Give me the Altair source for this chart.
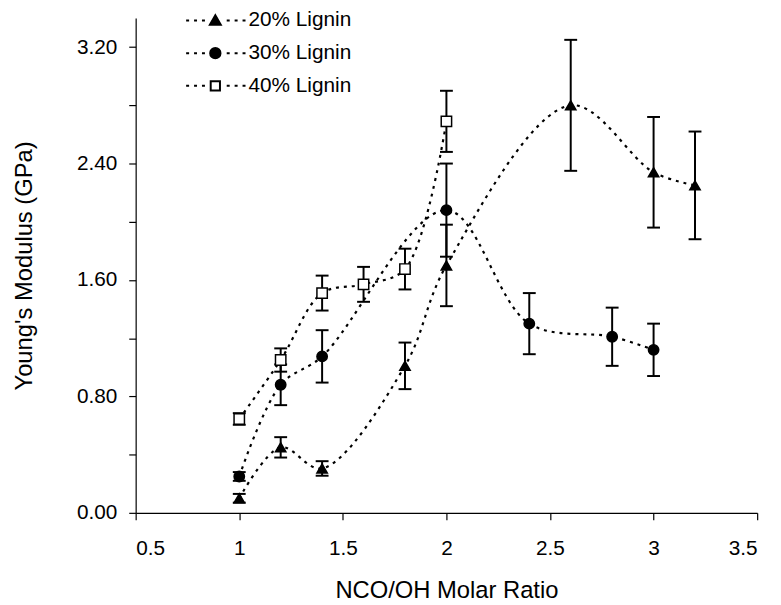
import altair as alt
import pandas as pd

# ---- data ----
names = ["20% Lignin", "30% Lignin", "40% Lignin"]

x20 = [1.0, 1.2, 1.4, 1.8, 2.0, 2.6, 3.0, 3.2]
y20 = [0.10, 0.45, 0.305, 1.01, 1.70, 2.80, 2.34, 2.25]
e20 = [0.03, 0.07, 0.05, 0.16, 0.28, 0.45, 0.38, 0.37]

x30 = [1.0, 1.2, 1.4, 2.0, 2.4, 2.8, 3.0]
y30 = [0.25, 0.88, 1.075, 2.08, 1.30, 1.21, 1.12]
e30 = [0.03, 0.14, 0.18, 0.32, 0.21, 0.20, 0.18]

x40 = [1.0, 1.2, 1.4, 1.6, 1.8, 2.0]
y40 = [0.645, 1.05, 1.51, 1.57, 1.675, 2.69]
e40 = [0.04, 0.08, 0.12, 0.12, 0.14, 0.21]

x_ticks = [0.5, 1.0, 1.5, 2.0, 2.5, 3.0, 3.5]
y_ticks = [0.0, 0.4, 0.8, 1.2, 1.6, 2.0, 2.4, 2.8, 3.2]

rows = []
for name, xs, ys, es in [(names[0], x20, y20, e20),
                         (names[1], x30, y30, e30),
                         (names[2], x40, y40, e40)]:
    for xv, yv, ev in zip(xs, ys, es):
        rows.append({"series": name, "x": xv, "y": yv, "lo": yv - ev, "hi": yv + ev})
df = pd.DataFrame(rows)

FONT = "Liberation Sans"

# ---- legend symbol paths: dotted line with marker (unit = sqrt(size)/2) ----
UNIT = 5.5
def dashes():
    segs = []
    for c in (-28, -20, -12, 13, 21, 29):
        a, b = c - 1.5, c + 1.5
        segs.append("M%.3f,0L%.3f,0" % (a / UNIT, b / UNIT))
    return "".join(segs)

tri = "M0,-0.95L1,0.8L-1,0.8Z"
circ = "M0.95,0A0.95,0.95,0,1,1,-0.95,0A0.95,0.95,0,1,1,0.95,0Z"
sq = "M-0.85,-0.85L0.85,-0.85L0.85,0.85L-0.85,0.85Z"
legend_paths = [dashes() + tri, dashes() + circ, dashes() + sq]

fill_range = ["black", "black", "white"]

xscale = alt.Scale(domain=[0.5, 3.5], nice=False, zero=False)
yscale = alt.Scale(domain=[0, 3.4], nice=False)

xaxis = alt.Axis(values=x_ticks, format="~g", title="NCO/OH Molar Ratio",
                 tickSize=7, labelPadding=18, titlePadding=21, grid=False)
yaxis = alt.Axis(values=y_ticks, title="Young's Modulus (GPa)",
                 labelExpr="round(datum.value*10) % 8 == 0 ? format(datum.value, '.2f') : ''",
                 tickSize=7, labelPadding=12, titlePadding=40, grid=False)

X = alt.X("x:Q", scale=xscale, axis=xaxis, title="NCO/OH Molar Ratio")
def Y(field):
    return alt.Y(field + ":Q", scale=yscale, axis=yaxis, title="Young's Modulus (GPa)")

base = alt.Chart(df)

rules = base.mark_rule(color="black", strokeWidth=2).encode(x=X, y=Y("lo"), y2="hi:Q")
caps_lo = base.mark_tick(orient="horizontal", size=13, thickness=2, color="black", opacity=1).encode(x=X, y=Y("lo"))
caps_hi = base.mark_tick(orient="horizontal", size=13, thickness=2, color="black", opacity=1).encode(x=X, y=Y("hi"))

lines = base.mark_line(interpolate="catmull-rom", strokeDash=[3, 5], strokeWidth=2.2,
                       color="black").encode(x=X, y=Y("y"), detail="series:N")

points = base.mark_point(size=110, opacity=1, stroke="black", strokeWidth=1.5).encode(
    x=X, y=Y("y"),
    shape=alt.Shape("series:N", scale=alt.Scale(domain=names, range=["triangle-up", "circle", "square"]), legend=None),
    fill=alt.Fill("series:N", scale=alt.Scale(domain=names, range=fill_range), legend=None),
)

leg = alt.Legend(title=None, orient="none", legendX=70, legendY=-8,
                 labelFontSize=21, labelFont=FONT, labelColor="black",
                 symbolSize=121, symbolStrokeColor="black", symbolStrokeWidth=2,
                 labelOffset=23, rowPadding=11, padding=0,
                 symbolOpacity=1)

legend_layer = alt.Chart(df).mark_point(size=121, opacity=1, stroke="black", strokeWidth=2).encode(
    x=X, y=Y("y"),
    shape=alt.Shape("series:N", scale=alt.Scale(domain=names, range=legend_paths), legend=leg),
    fill=alt.Fill("series:N", scale=alt.Scale(domain=names, range=fill_range), legend=leg),
    stroke=alt.Stroke("series:N", scale=alt.Scale(domain=names, range=["black", "black", "black"]), legend=leg),
).transform_filter("false")

chart = alt.layer(rules, caps_lo, caps_hi, lines, points, legend_layer).resolve_scale(
    shape="independent", fill="independent", stroke="independent"
).properties(
    width=628, height=500,
    autosize=alt.AutoSizeParams(type="none"),
    padding={"left": 129, "top": 7, "right": 16, "bottom": 90},
    background="white",
).configure_view(stroke=None).configure_axis(
    domainColor="black", tickColor="black", labelColor="black", titleColor="black",
    labelFont=FONT, titleFont=FONT, labelFontSize=21, titleFontSize=24,
    titleFontWeight="normal", domainWidth=1.2, tickWidth=1.2,
)

chart.save("out.html", embed_options={"renderer": "svg", "actions": False})
